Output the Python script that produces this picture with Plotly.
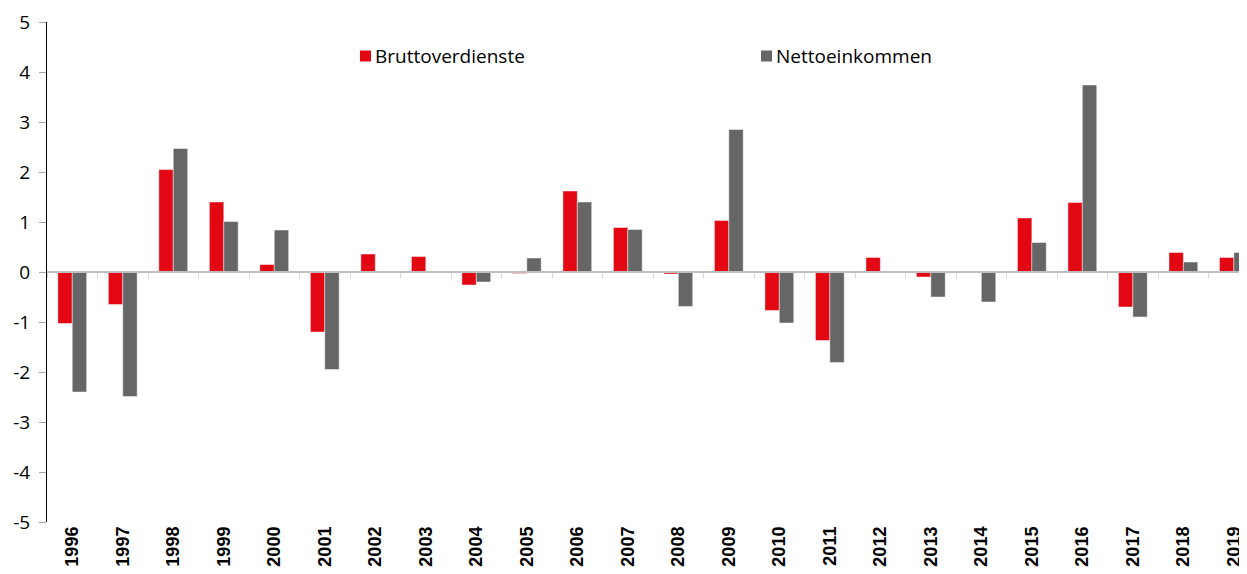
import plotly.graph_objects as go

years = [str(y) for y in range(1996, 2020)]
brutto = [-1.03, -0.65, 2.05, 1.40, 0.15, -1.20, 0.36, 0.31, -0.26, -0.03, 1.62, 0.89,
          -0.04, 1.03, -0.77, -1.37, 0.29, -0.10, 0.0, 1.08, 1.39, -0.70, 0.39, 0.29]
netto = [-2.40, -2.49, 2.47, 1.01, 0.84, -1.95, 0.0, 0.0, -0.20, 0.28, 1.40, 0.85,
         -0.69, 2.85, -1.02, -1.81, 0.0, -0.50, -0.60, 0.59, 3.74, -0.90, 0.20, 0.39]
y_ticks = [5, 4, 3, 2, 1, 0, -1, -2, -3, -4, -5]
y_ticktext = [str(v) for v in y_ticks]  # plain hyphen minus as in reference
series_names = ["Bruttoverdienste", "Nettoeinkommen"]

RED = "#E30613"
GREY = "#666666"
FONT = "Open Sans"
EDGE = "rgba(255,255,255,0.45)"

fig = go.Figure()
fig.add_trace(go.Bar(x=years, y=brutto, name=series_names[0], marker_color=RED,
                     marker_line=dict(width=1, color=EDGE), showlegend=False))
fig.add_trace(go.Bar(x=years, y=netto, name=series_names[1], marker_color=GREY,
                     marker_line=dict(width=1, color=EDGE), showlegend=False))
# invisible trace on the overlay axis that carries the zero-level category axis line
fig.add_trace(go.Bar(x=years, y=[None] * len(years), xaxis="x2", showlegend=False,
                     hoverinfo="skip"))

# custom legend (square directly followed by text, as in the reference)
legend_x = [0.2608, 0.595]
legend_y = 0.932
for name, col, lx in zip(series_names, [RED, GREY], legend_x):
    fig.add_shape(type="rect", xref="paper", yref="paper",
                  xsizemode="pixel", ysizemode="pixel",
                  xanchor=lx, yanchor=legend_y, x0=0, x1=11, y0=-5.5, y1=5.5,
                  fillcolor=col, line_width=0)
    fig.add_annotation(xref="paper", yref="paper", x=lx + 0.0108, y=legend_y,
                       xanchor="left", yanchor="middle", text=name, showarrow=False,
                       font=dict(family=FONT, size=19, color="#000000"))

xr = [-0.5, 23.26]
fig.update_layout(
    width=1239, height=566,
    margin=dict(l=39, r=0, t=14, b=52),
    paper_bgcolor="white", plot_bgcolor="white",
    barmode="group", bargap=0.43, bargroupgap=0,
    font=dict(family=FONT, size=19, color="#000000"),
    showlegend=False,
    xaxis=dict(type="category", range=xr, showline=False, ticks="", showgrid=False,
               zeroline=False, tickangle=-90, automargin=False,
               categoryorder="array", categoryarray=years,
               tickfont=dict(family="Liberation Sans", size=18, color="#000000", weight="bold")),
    xaxis2=dict(type="category", range=xr, overlaying="x", anchor="free", position=0.5,
                showline=True, linecolor="#bfbfbf", linewidth=2, automargin=False,
                ticks="outside", ticklen=5, tickcolor="#d9d9d9", tickwidth=1,
                tickson="boundaries",
                showticklabels=False, showgrid=False, zeroline=False,
                categoryorder="array", categoryarray=years),
    yaxis=dict(range=[-5, 5], tickvals=y_ticks, ticktext=y_ticktext, showline=True,
               linecolor="#000000", linewidth=1, ticks="outside", ticklen=7,
               tickcolor="#a6a6a6", showgrid=False, zeroline=False, automargin=False,
               ticklabelstandoff=5,
               tickfont=dict(family=FONT, size=19, color="#000000")),
)

fig.write_html("out.html")
